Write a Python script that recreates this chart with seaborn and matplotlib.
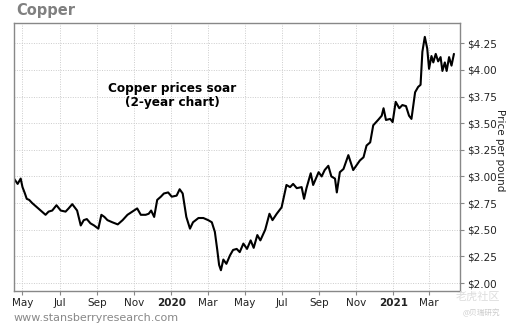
import matplotlib
matplotlib.use("Agg")
import matplotlib.pyplot as plt
import seaborn as sns
import pandas as pd

dates = [
    "2019-04-17", "2019-04-23", "2019-04-28", "2019-05-01", "2019-05-05", "2019-05-08",
    "2019-05-12", "2019-05-17", "2019-05-25", "2019-06-02", "2019-06-08", "2019-06-13",
    "2019-06-19", "2019-06-26", "2019-07-03", "2019-07-11", "2019-07-16", "2019-07-22",
    "2019-07-30", "2019-08-05", "2019-08-10", "2019-08-15", "2019-08-21", "2019-08-27",
    "2019-09-03", "2019-09-08", "2019-09-13", "2019-09-18", "2019-09-26", "2019-10-05",
    "2019-10-13", "2019-10-21", "2019-10-29", "2019-11-06", "2019-11-12", "2019-11-20",
    "2019-11-25", "2019-11-29", "2019-12-04", "2019-12-09", "2019-12-15", "2019-12-20",
    "2019-12-27", "2020-01-02", "2020-01-10", "2020-01-15", "2020-01-20", "2020-01-26",
    "2020-02-01", "2020-02-06", "2020-02-15", "2020-02-23", "2020-03-02", "2020-03-08",
    "2020-03-13", "2020-03-17", "2020-03-20", "2020-03-23", "2020-03-27", "2020-04-01",
    "2020-04-07", "2020-04-12", "2020-04-18", "2020-04-23", "2020-04-29", "2020-05-05",
    "2020-05-11", "2020-05-16", "2020-05-22", "2020-05-27", "2020-06-04", "2020-06-11",
    "2020-06-16", "2020-06-23", "2020-07-01", "2020-07-09", "2020-07-15", "2020-07-20",
    "2020-07-26", "2020-08-03", "2020-08-07", "2020-08-11", "2020-08-18", "2020-08-22",
    "2020-08-31", "2020-09-05", "2020-09-10", "2020-09-16", "2020-09-21", "2020-09-27",
    "2020-09-30", "2020-10-05", "2020-10-11", "2020-10-19", "2020-10-27", "2020-11-07",
    "2020-11-13", "2020-11-18", "2020-11-24", "2020-11-29", "2020-12-07", "2020-12-13",
    "2020-12-16", "2020-12-20", "2020-12-27", "2020-12-31", "2021-01-05", "2021-01-11",
    "2021-01-16", "2021-01-22", "2021-01-27", "2021-01-31", "2021-02-06", "2021-02-11",
    "2021-02-15", "2021-02-18", "2021-02-22", "2021-02-26", "2021-03-01", "2021-03-05",
    "2021-03-08", "2021-03-12", "2021-03-16", "2021-03-20", "2021-03-23", "2021-03-27",
    "2021-03-30", "2021-04-03", "2021-04-07", "2021-04-11",
]
prices = [
    2.98, 2.93, 2.98, 2.90, 2.84, 2.79,
    2.78, 2.75, 2.71, 2.67, 2.64, 2.67,
    2.68, 2.73, 2.68, 2.67, 2.70, 2.74,
    2.68, 2.54, 2.59, 2.60, 2.56, 2.54,
    2.51, 2.64, 2.62, 2.59, 2.57, 2.55,
    2.59, 2.64, 2.67, 2.70, 2.64, 2.64,
    2.65, 2.68, 2.62, 2.78, 2.81, 2.84,
    2.85, 2.81, 2.82, 2.88, 2.84, 2.62,
    2.51, 2.57, 2.61, 2.61, 2.59, 2.57,
    2.48, 2.31, 2.17, 2.12, 2.22, 2.18,
    2.26, 2.31, 2.32, 2.29, 2.37, 2.32,
    2.40, 2.33, 2.45, 2.40, 2.50, 2.65,
    2.59, 2.65, 2.71, 2.92, 2.90, 2.93,
    2.89, 2.90, 2.79, 2.89, 3.03, 2.92,
    3.04, 3.00, 3.06, 3.10, 3.00, 2.98,
    2.85, 3.04, 3.07, 3.20, 3.06, 3.15,
    3.18, 3.29, 3.32, 3.48, 3.53, 3.57,
    3.64, 3.53, 3.54, 3.51, 3.70, 3.64,
    3.67, 3.66, 3.57, 3.54, 3.79, 3.84,
    3.86, 4.17, 4.31, 4.20, 4.01, 4.13,
    4.07, 4.15, 4.08, 4.12, 3.99, 4.07,
    3.99, 4.12, 4.04, 4.15,
]
y_ticks = [2.00, 2.25, 2.50, 2.75, 3.00, 3.25, 3.50, 3.75, 4.00, 4.25]
x_tick_dates = ["2019-05-01", "2019-07-01", "2019-09-01", "2019-11-01", "2020-01-01",
                "2020-03-01", "2020-05-01", "2020-07-01", "2020-09-01", "2020-11-01",
                "2021-01-01", "2021-03-01"]
x_tick_labels = ["May", "Jul", "Sep", "Nov", "2020", "Mar", "May", "Jul", "Sep", "Nov",
                 "2021", "Mar"]

df = pd.DataFrame({"date": pd.to_datetime(dates), "price": prices})

sns.set_style("white")
plt.rcParams["font.family"] = ["DejaVu Sans", "Noto Sans CJK SC"]

fig = plt.figure(figsize=(5.1, 3.25), dpi=100)
ax = fig.add_axes([14 / 510, 1 - 291 / 325, 446 / 510, 268 / 325])

sns.lineplot(data=df, x="date", y="price", ax=ax, color="black", linewidth=1.5)

ax.set_xlim(pd.Timestamp("2019-04-17"), pd.Timestamp("2021-04-21"))
ax.set_ylim(1.925, 4.44)

ax.yaxis.tick_right()
ax.set_yticks(y_ticks)
ax.set_yticklabels([f"${v:.2f}" for v in y_ticks], fontsize=7.5, color="#222222")
ax.set_xticks(pd.to_datetime(x_tick_dates))
ax.set_xticklabels(x_tick_labels, fontsize=7.5, color="#222222")
for lbl in ax.get_xticklabels():
    if lbl.get_text() in ("2020", "2021"):
        lbl.set_fontweight("bold")
ax.tick_params(axis="y", direction="out", length=3, width=0.8, color="#888888", pad=2,
               right=True, left=False)
ax.tick_params(axis="x", direction="out", length=3, width=0.8, color="#888888", pad=2,
               bottom=True)

ax.grid(True, linestyle=(0, (1, 1.5)), color="#cccccc", linewidth=0.7)
ax.set_xlabel("")
ax.set_ylabel("")
for sp in ax.spines.values():
    sp.set_color("#888888")
    sp.set_linewidth(1.0)

fig.text(16 / 510, 1 - 11 / 325, "Copper", fontsize=10.5, fontweight="bold",
         color="#808080", va="center", ha="left")
fig.text(172 / 510, 1 - 95.5 / 325, "Copper prices soar\n(2-year chart)",
         fontsize=8.7, fontweight="bold", ha="center", va="center", linespacing=1.1,
         color="black")
fig.text(500 / 510, 1 - 150 / 325, "Price per pound", rotation=-90, fontsize=7.5,
         ha="center", va="center", color="#222222")
fig.text(14 / 510, 1 - 318 / 325, "www.stansberryresearch.com", fontsize=8,
         color="#888888", ha="left", va="center")
fig.text(500 / 510, 1 - 297 / 325, "老虎社区", fontsize=8, color="#dddddd",
         ha="right", va="center", family=["Noto Sans CJK SC", "DejaVu Sans"])
fig.text(500 / 510, 1 - 313 / 325, "@贝瑞研究", fontsize=5.5, color="#cccccc",
         ha="right", va="center", family=["Noto Sans CJK SC", "DejaVu Sans"])

fig.savefig("out.png", dpi=100)
